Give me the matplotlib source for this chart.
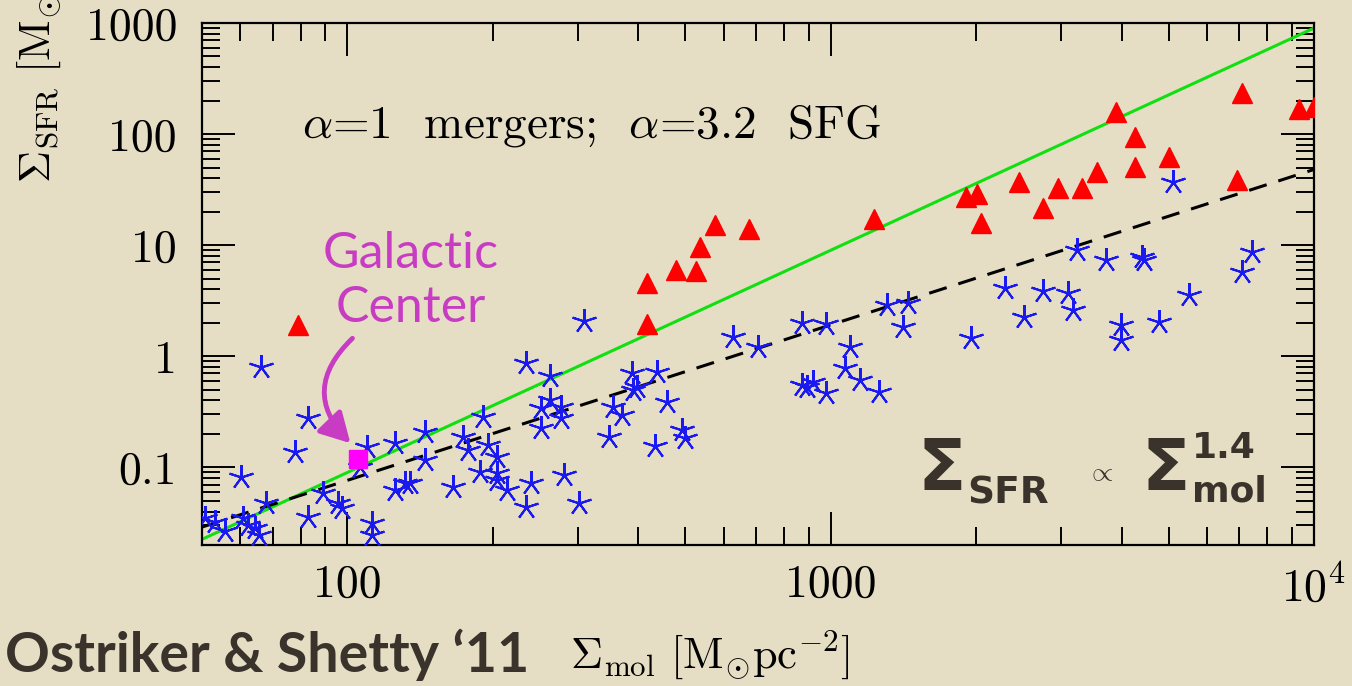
import numpy as np
import matplotlib
matplotlib.use("Agg")
import matplotlib.pyplot as plt
from matplotlib.ticker import LogLocator, NullFormatter, FixedLocator, FixedFormatter

# merging systems (red triangles)
merger_x = [79, 417, 417, 479, 525, 537, 577, 678, 1230, 1905, 2009, 2048,
            2455, 2750, 2955, 3313, 3559, 3894, 4262, 4262, 5011, 6930,
            7100, 9306, 10000]
merger_y = [1.9, 4.6, 1.94, 5.95, 5.8, 9.6, 15.1, 13.9, 17.1, 27, 29, 16,
            37, 21.5, 32.6, 33, 46, 158, 94, 51, 62, 38.5, 234, 168, 175]

# star forming galaxies (blue asterisks)
sfg_x = [50.6, 53.3, 55.9, 60.9, 62.4, 64.5, 65.5, 60.3, 66.1, 67.7, 77.7,
         83.0, 83.0, 88.8, 95.8, 97.6, 106.4, 110, 112.6, 112.6, 125.7, 131.8,
         125.7, 145, 145, 135, 165.6, 173.8, 178, 191, 195, 204, 188, 204, 204,
         214, 234, 263, 251, 263, 276, 276, 251, 240, 234, 281, 302, 309, 347,
         355, 370, 388, 389, 398, 437, 433, 459, 493, 500,
         628, 708, 873, 979, 1097, 1072, 1151, 1259, 873, 920, 979, 893, 1309,
         1446, 1412, 1954,
         2296, 2512, 2751, 3098, 3175, 3236, 3716, 4408, 4446, 3990, 3990,
         4775, 5508, 5105, 7098, 7445]
sfg_y = [0.0347, 0.032, 0.027, 0.0347, 0.030, 0.0282, 0.0244, 0.0813, 0.796,
         0.0474, 0.1365, 0.276, 0.0355, 0.0583, 0.0474, 0.0427, 0.1, 0.151,
         0.0313, 0.0244, 0.062, 0.0718, 0.1645, 0.207, 0.1156, 0.0718, 0.066,
         0.186, 0.142, 0.282, 0.158, 0.123, 0.090, 0.0883, 0.0763, 0.062,
         0.865, 0.66, 0.34, 0.40, 0.347, 0.276, 0.225, 0.0718, 0.0436, 0.0847,
         0.0474, 2.07, 0.186, 0.347, 0.294, 0.703, 0.494, 0.526, 0.718, 0.155,
         0.385, 0.216, 0.183,
         1.48, 1.205, 1.98, 1.94, 1.205, 0.78, 0.608, 0.474, 0.548, 0.583,
         0.464, 0.526, 2.88, 3.0, 1.82, 1.45,
         4.1, 2.25, 3.85, 3.69, 2.6, 9.0, 7.3, 7.8, 7.3, 1.9, 1.39, 2.02,
         3.54, 37, 5.7, 8.65]

# Galactic Center
gc_x = [105]
gc_y = [0.12]

# fits: alpha=1 mergers / alpha=3.2 SFG (green), Sigma^1.4 (dashed)
green_x = [50, 10000]
green_y = [0.0225, 900]
dash_x = [50, 10000]
dash_y = [0.029, 48]

xticks = [100, 1000, 10000]
xticklabels = ["100", "1000", r"$10^4$"]
yticks = [0.1, 1, 10, 100, 1000]
yticklabels = ["0.1", "1", "10", "100", "1000"]

bg = "#e5dec4"
ink = "#3a332b"
pink = "#c83cc4"
W, H = 1352, 686


def px(x, y):
    # pixel position (from top-left) -> figure fraction
    return x / W, 1 - y / H


plt.rcParams["mathtext.fontset"] = "cm"
plt.rcParams["axes.formatter.use_mathtext"] = True

fig = plt.figure(figsize=(W / 100, H / 100), dpi=100, facecolor=bg)
ax = fig.add_axes([202 / W, 141 / H, 1112 / W, 522 / H])
ax.set_facecolor("none")

ax.plot(green_x, green_y, color="#10e010", lw=2.2, zorder=2)
ax.plot(dash_x, dash_y, color="black", lw=2.2, ls=(0, (6, 4)), zorder=2)
ax.plot(sfg_x, sfg_y, ls="none", marker=(5, 2, 0), ms=18, mew=1.5,
        color="#1a1af0", zorder=3)
ax.plot(merger_x, merger_y, ls="none", marker="^", ms=15, color="#ff0000",
        mec="#ff0000", zorder=4)
ax.plot(gc_x, gc_y, ls="none", marker="s", ms=13, color="#ff00ff",
        mec="#ff00ff", zorder=5)

ax.set_xscale("log")
ax.set_yscale("log")
ax.set_xlim(50, 10000)
ax.set_ylim(0.02, 1000)

ax.xaxis.set_major_locator(FixedLocator(xticks))
ax.xaxis.set_major_formatter(FixedFormatter(xticklabels))
ax.yaxis.set_major_locator(FixedLocator(yticks))
ax.yaxis.set_major_formatter(FixedFormatter(yticklabels))
ax.xaxis.set_minor_locator(LogLocator(base=10, subs=np.arange(2, 10)))
ax.yaxis.set_minor_locator(LogLocator(base=10, subs=np.arange(2, 10)))
ax.xaxis.set_minor_formatter(NullFormatter())
ax.yaxis.set_minor_formatter(NullFormatter())

ax.tick_params(which="both", direction="in", top=True, right=True,
               color="black", width=1.4)
ax.tick_params(which="major", length=24)
ax.tick_params(which="minor", length=13)
ax.tick_params(axis="x", which="major", pad=14)
ax.tick_params(axis="y", which="major", pad=18)
for lab in ax.get_xticklabels() + ax.get_yticklabels():
    lab.set_fontfamily("cmr10")
    lab.set_fontsize(33)
for s in ax.spines.values():
    s.set_linewidth(1.6)

fig.text(*px(302, 126), r"$\alpha$=1  mergers;  $\alpha$=3.2  SFG",
         family="cmr10", fontsize=34, ha="left", va="center")

# Sigma_SFR ∝ Sigma_mol^1.4
sig = dict(family="DejaVu Sans", fontweight="bold", color=ink, va="baseline")
fig.text(*px(918, 490), "\u03a3", fontsize=51, ha="left", **sig)
fig.text(*px(967, 503), "SFR", fontsize=27, ha="left", **sig)
fig.text(*px(1100, 480), r"$\propto$", fontsize=20, color=ink, ha="center",
         va="baseline")
fig.text(*px(1141, 490), "\u03a3", fontsize=51, ha="left", **sig)
fig.text(*px(1192, 458), "1.4", fontsize=26, ha="left", **sig)
fig.text(*px(1192, 502), "mol", fontsize=26, ha="left", **sig)

ax.text(135, 4.74, "Galactic\nCenter", fontsize=36, color=pink, family="Lato",
        ha="center", va="center", linespacing=1.2)
ax.annotate("", xy=(101.4, 0.165), xytext=(102.4, 1.45),
            arrowprops=dict(arrowstyle="-|>,head_length=0.9,head_width=0.5",
                            color=pink, lw=3.5, mutation_scale=20,
                            connectionstyle="arc3,rad=0.5",
                            shrinkA=0, shrinkB=0))

fig.text(*px(5, 655), "Ostriker & Shetty \u201811", fontsize=40,
         fontweight="bold", color=ink, family="Lato", ha="left", va="center")
fig.text(*px(570, 655),
         r"$\Sigma_{\rm mol}\ [{\rm M}_{\odot}{\rm pc}^{-2}]$",
         fontsize=32, color="black", ha="left", va="center")
fig.text(*px(37, 183),
         r"$\Sigma_{\rm SFR}\ [{\rm M}_{\odot}{\rm yr}^{-1}{\rm kpc}^{-2}]$",
         fontsize=32, color="black", ha="center", va="bottom", rotation=90)

fig.savefig("out.png", dpi=100, facecolor=bg)
